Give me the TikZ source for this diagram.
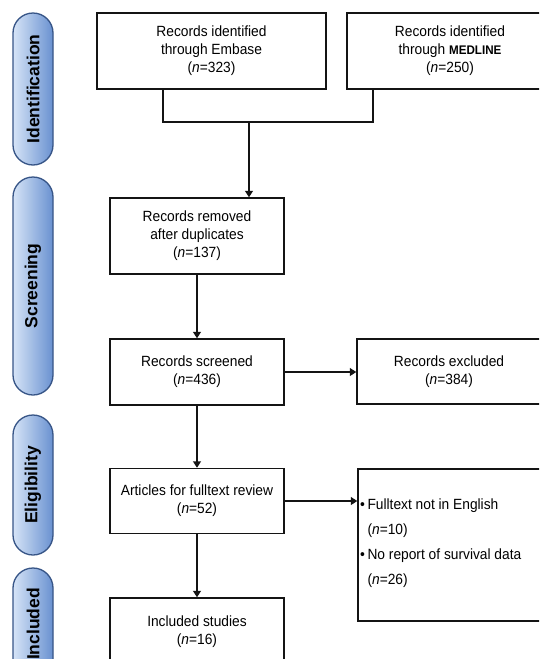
\documentclass[tikz,border=0pt]{standalone}
\usepackage{fontspec}
\setmainfont[FakeStretch=0.93]{Liberation Sans}
\newfontfamily\pillfont{Liberation Sans}
\usetikzlibrary{arrows.meta,calc}
\definecolor{pilllight}{RGB}{214,228,247}
\definecolor{pilldark}{RGB}{105,145,208}
\definecolor{pillborder}{RGB}{55,85,135}
\definecolor{ink}{RGB}{20,20,20}
\begin{document}
\begin{tikzpicture}[x=1pt,y=-1pt,
  box/.style={draw=ink, line width=1.5pt, align=center, inner sep=0pt, font=\fontsize{14.8}{18}\selectfont},
  pill/.style={draw=pillborder, line width=1.3pt, rounded corners=20pt, left color=pilllight, right color=pilldark, minimum width=40pt, inner sep=0pt},
  pilltext/.style={rotate=90, inner sep=0pt, font=\pillfont\fontsize{17.5}{20}\selectfont\bfseries},
  arr/.style={draw=ink, line width=1.5pt, -{Triangle[length=6.5pt,width=8pt]}},
  conn/.style={draw=ink, line width=1.5pt}]
\clip (0,0) rectangle (539,659);
\fill[white] (0,0) rectangle (539,659);
% phase pills
\node[pill, minimum height=152pt] (p1) at (33,89) {};
\node[pilltext] (p1t) at (p1) {Identification};
\node[pill, minimum height=218pt] (p2) at (33,286) {};
\node[pilltext] (p2t) at (p2) {Screening};
\node[pill, minimum height=140pt] (p3) at (33,485) {};
\node[pilltext] (p3t) at (p3) {Eligibility};
\node[pill, minimum height=112pt] (p4) at (33,624) {};
\node[pilltext] (p4t) at (p4) {Included};
% boxes
\node[box, minimum width=229pt, minimum height=76pt] (b1) at (211.5,51) {Records identified\\through Embase\\(\textit{n}=323)};
\node[box, minimum width=206pt, minimum height=76pt] (b2) at (450,51) {Records identified\\through {\fontsize{12.5}{18}\selectfont\bfseries MEDLINE}\\(\textit{n}=250)};
\node[box, minimum width=174pt, minimum height=76pt] (b3) at (197,236) {Records removed\\after duplicates\\(\textit{n}=137)};
\node[box, minimum width=174pt, minimum height=66pt] (b4) at (197,372) {Records screened\\(\textit{n}=436)};
\node[box, minimum width=184pt, minimum height=65pt] (b5) at (449,371.5) {Records excluded\\(\textit{n}=384)};
\node[box, minimum width=174pt, minimum height=65pt] (b6) at (197,501) {Articles for fulltext review\\(\textit{n}=52)};
\node[box, minimum width=190pt, minimum height=152pt] (b7) at (453,545) {};
\node[anchor=west, align=left, inner sep=0pt, font=\fontsize{14.8}{25}\selectfont] (b7t) at (360,543)
  {\textbullet\hspace{2.5pt}Fulltext not in English\\\hphantom{\textbullet\hspace{2.5pt}}(\textit{n}=10)\\\textbullet\hspace{2.5pt}No report of survival data\\\hphantom{\textbullet\hspace{2.5pt}}(\textit{n}=26)};
\node[box, minimum width=174pt, minimum height=68pt] (b8) at (197,632) {Included studies\\(\textit{n}=16)};
% connectors
\coordinate (j) at (249,122);
\draw[conn] ([xshift=-48.5pt]b1.south) |- (j) -| ([xshift=-77pt]b2.south);
\draw[arr] (j) -- (j |- b3.north);
\draw[arr] (b3.south) -- (b4.north);
\draw[arr] (b4.east) -- (b4.east -| b5.west);
\draw[arr] (b4.south) -- (b6.north);
\draw[arr] (b6.east) -- (b6.east -| b7.west);
\draw[arr] (b6.south) -- (b8.north);
\end{tikzpicture}
\end{document}
